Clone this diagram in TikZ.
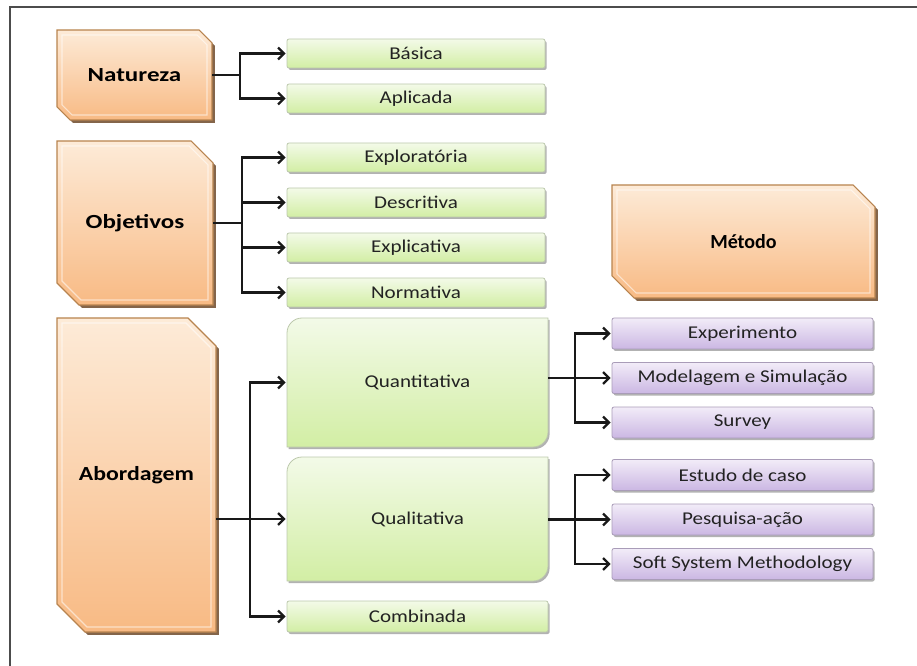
\documentclass[tikz,border=0pt]{standalone}
\usepackage{fontspec}
\setmainfont{Carlito}
\usetikzlibrary{arrows.meta,shadows,backgrounds,calc}
\definecolor{otop}{HTML}{FDEBD8}
\definecolor{obot}{HTML}{F8BA84}
\definecolor{oline}{HTML}{B8844F}
\definecolor{oshadow}{HTML}{6E4A2A}
\definecolor{gtop}{HTML}{F3FAE8}
\definecolor{gbot}{HTML}{D2EEA4}
\definecolor{gline}{HTML}{BCC8AC}
\definecolor{ptop}{HTML}{F2ECF8}
\definecolor{pbot}{HTML}{CBB7E3}
\definecolor{pline}{HTML}{A99CB8}
\definecolor{txt}{HTML}{222222}
\newcommand\lbl[2][1.25]{\scalebox{#1}[1]{#2}}
\newcommand\sml[1]{\scalebox{1.17}[1]{#1}}
\newcommand\chamfbox[2]{%
  \path[obg] (#1.north west) -- ($(#1.north east)+(-#2,0)$) -- ($(#1.north east)+(0,#2)$)
    -- (#1.south east) -- ($(#1.south west)+(#2,0)$) -- ($(#1.south west)+(0,-#2)$) -- cycle;
  \path[oinner] ($(#1.north west)+(5,5)$) -- ($(#1.north east)+(-#2-2,5)$) -- ($(#1.north east)+(-5,#2+2)$)
    -- ($(#1.south east)+(-5,-5)$) -- ($(#1.south west)+(#2+2,-5)$) -- ($(#1.south west)+(5,-#2-2)$) -- cycle;}
\newcommand\roundbox[2]{%
  \path[gbg] (#1.south west) -- ($(#1.north west)+(0,#2)$) arc[start angle=180,end angle=270,radius=#2]
    -- (#1.north east) -- ($(#1.south east)+(0,-#2)$) arc[start angle=0,end angle=90,radius=#2] -- cycle;}
\begin{document}
\begin{tikzpicture}[x=0.75pt,y=-0.75pt,
  px/.style 2 args={minimum width={#1*0.75pt},minimum height={#2*0.75pt},inner sep=0pt,outer sep=0pt},
  onode/.style={font=\fontsize{15}{18}\selectfont\bfseries,text=black},
  obg/.style={draw=oline,line width=0.8pt,top color=otop,bottom color=obot,
    drop shadow={shadow xshift=2.2pt,shadow yshift=-2.2pt,fill=oshadow,opacity=0.85}},
  oinner/.style={draw=white,line width=0.8pt,opacity=0.55},
  gbg/.style={draw=gline,line width=0.6pt,top color=gtop,bottom color=gbot,
    drop shadow={shadow xshift=1.2pt,shadow yshift=-1.5pt,fill=black,opacity=0.3}},
  gnode/.style={font=\fontsize{13.5}{15}\selectfont,text=txt},
  gbox/.style={gnode,draw=gline,line width=0.6pt,top color=gtop,bottom color=gbot,rounded corners=1.5pt,
    drop shadow={shadow xshift=1.2pt,shadow yshift=-1.5pt,fill=black,opacity=0.3}},
  pbox/.style={gnode,draw=pline,line width=0.6pt,top color=ptop,bottom color=pbot,rounded corners=1.5pt,
    drop shadow={shadow xshift=1.2pt,shadow yshift=-1.5pt,fill=black,opacity=0.3}},
  arr/.style={line width=1.7pt,draw=black!90,-{Straight Barb[length=4.5pt,width=9pt]},shorten >=1pt}]
\useasboundingbox (0,0) rectangle (917,666);
\draw[line width=2pt,draw=black!70] (10,666) -- (10,7) -- (917,7);

% orange nodes
\node[px={155}{90},onode] (nat) at (134.5,75) {\lbl{Natureza}};
\node[px={156}{164},onode] (obj) at (135,223) {\lbl{Objetivos}};
\node[px={159}{314},onode] (abd) at (136.5,475) {\lbl[1.19]{Abordagem}};
\node[px={263}{113},onode] (met) at (743.5,241.5) {\lbl[1.0]{Método}};

% green boxes
\node[px={258}{29},gbox] (bas) at (416,53.5) {\sml{Básica}};
\node[px={258}{29},gbox] (apl) at (416,98.5) {\sml{Aplicada}};
\node[px={258}{29},gbox] (exp) at (416,157.5) {\sml{Exploratória}};
\node[px={258}{29},gbox] (des) at (416,202.5) {\sml{Descritiva}};
\node[px={258}{29},gbox] (epl) at (416,247.5) {\sml{Explicativa}};
\node[px={258}{29},gbox] (nor) at (416,292.5) {\sml{Normativa}};
\node[px={261}{129},gnode] (quant) at (417.5,382.5) {\sml{Quantitativa}};
\node[px={261}{124},gnode] (qual) at (417.5,519) {\sml{Qualitativa}};
\node[px={261}{31},gbox] (comb) at (417.5,616.5) {\sml{Combinada}};

% purple boxes
\node[px={261}{31},pbox] (expm) at (742.5,333.5) {\sml{Experimento}};
\node[px={261}{31},pbox] (mod) at (742.5,378) {\sml{Modelagem e Simulação}};
\node[px={261}{31},pbox] (sur) at (742.5,422.5) {\sml{Survey}};
\node[px={261}{31},pbox] (est) at (742.5,475) {\sml{Estudo de caso}};
\node[px={261}{31},pbox] (pes) at (742.5,519.5) {\sml{Pesquisa-ação}};
\node[px={261}{31},pbox] (ssm) at (742.5,564) {\sml{Soft System Methodology}};

\begin{scope}[on background layer]
  \chamfbox{nat}{13}
  \chamfbox{obj}{22}
  \chamfbox{abd}{28}
  \chamfbox{met}{22}
  \roundbox{quant}{15}
  \roundbox{qual}{15}
\end{scope}

% connectors
\draw[arr] (nat.east) -- ++(28,0) |- (bas.west);
\draw[arr] (nat.east) -- ++(28,0) |- (apl.west);
\draw[arr] (obj.east) -- ++(29,0) |- (exp.west);
\draw[arr] (obj.east) -- ++(29,0) |- (des.west);
\draw[arr] (obj.east) -- ++(29,0) |- (epl.west);
\draw[arr] (obj.east) -- ++(29,0) |- (nor.west);
\coordinate (ja) at ($(abd.east |- qual.west)+(34,0)$);
\draw[arr] (abd.east |- qual.west) -- (qual.west);
\draw[arr] (ja) |- (quant.west);
\draw[arr] (ja) |- (comb.west);
\coordinate (jq) at ($(quant.east |- mod.west)+(27,0)$);
\draw[arr] (quant.east |- mod.west) -- (mod.west);
\draw[arr] (jq) |- (expm.west);
\draw[arr] (jq) |- (sur.west);
\coordinate (jl) at ($(qual.east |- pes.west)+(27,0)$);
\draw[arr] (qual.east |- pes.west) -- (pes.west);
\draw[arr] (jl) |- (est.west);
\draw[arr] (jl) |- (ssm.west);
\end{tikzpicture}
\end{document}
